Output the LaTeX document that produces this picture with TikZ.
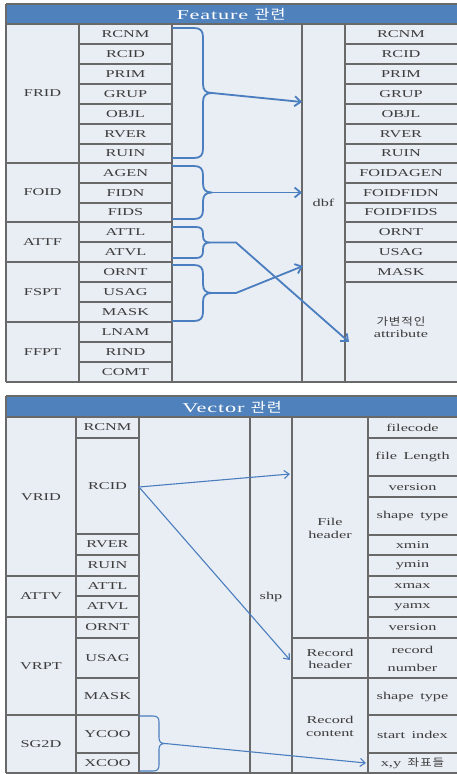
\documentclass[tikz,border=0pt]{standalone}
\usepackage{fontspec}
\setmainfont{Liberation Serif}[FakeStretch=1.55, WordSpace=1.6]
\newfontfamily\kr{Noto Sans CJK KR}[FakeStretch=1.2, LetterSpace=8]
\newfontfamily\hdr{Liberation Serif}[FakeStretch=1.65, LetterSpace=6]
\usetikzlibrary{arrows.meta}
\definecolor{cellbg}{RGB}{233,237,244}
\definecolor{gridc}{RGB}{105,105,105}
\definecolor{hdrbg}{RGB}{79,129,189}
\definecolor{arrc}{RGB}{74,126,190}
\definecolor{txtc}{RGB}{60,60,60}
\newcommand\brc[7]{%
 \pgfmathsetmacro\ym{(#2+#3)/2}%
 \draw[#7] (#1,#2) -- ({#4-#5},#2) .. controls ({#4-0.3*#5},#2) and (#4,{#2+0.3*#5}) .. (#4,{#2+#5}) -- (#4,{\ym-#5}) .. controls (#4,{\ym-0.3*#5}) and ({#4+0.3*#5},\ym) .. ({#4+#5},\ym) .. controls ({#4+0.3*#5},\ym) and (#4,{\ym+0.3*#5}) .. (#4,{\ym+#5}) -- (#4,{#3-#5}) .. controls (#4,{#3-0.3*#5}) and ({#4-0.3*#5},#3) .. ({#4-#5},#3) -- (#1,#3);%
 \coordinate (#6) at ({#4+#5},\ym);%
}
\tikzset{
 gridline/.style={draw=gridc, line width=1.1pt},
 lbl/.style={text=txtc, inner sep=0pt, align=center, font=\fontsize{10.5}{12}\selectfont},
 hdrlbl/.style={text=white, inner sep=0pt, font=\hdr\fontsize{13.5}{15}\selectfont},
 bracetop/.style={draw=arrc, line width=1.8pt, line join=round},
 bracebot/.style={draw=arrc, line width=1.1pt, line join=round},
 arrowtop/.style={draw=arrc, line width=1.8pt, -{Straight Barb[length=6pt,width=10pt]}},
 arrowbot/.style={draw=arrc, line width=1.1pt, -{Straight Barb[length=5pt,width=8pt]}},
}
\begin{document}
\begin{tikzpicture}[x=1pt,y=-1pt]
\useasboundingbox (0,0) rectangle (457,774);
\fill[white] (0,0) rectangle (457,774);
% ================= TOP TABLE =================
\fill[cellbg] (6,24) rectangle (457,382);
\fill[hdrbg] (6,4) rectangle (457,24);
\draw[gridline] (6,4) -- (457,4);
\draw[gridline] (6,4) -- (6,24);
\draw[gridline] (6,24) -- (457,24);
\foreach \x in {6,79,172,302,345} \draw[gridline] (\x,24) -- (\x,382);
\draw[gridline] (6,382) -- (457,382);
\foreach \y in {163,222,262,322} \draw[gridline] (6,\y) -- (79,\y);
\foreach \y in {44,64,84,104,124,144,163,183,203,222,242,262,282,302,322,342,362} \draw[gridline] (79,\y) -- (172,\y);
\foreach \y in {44,64,84,104,124,144,163,183,203,222,242,262,282} \draw[gridline] (345,\y) -- (457,\y);
\node[hdrlbl] (h1) at (231,14) {Feature {\kr 관련}};
% col 1
\node[lbl] (frid) at (42.5,93.5) {FRID};
\node[lbl] (foid) at (42.5,192.5) {FOID};
\node[lbl] (attf) at (42.5,242) {ATTF};
\node[lbl] (fspt) at (42.5,292) {FSPT};
\node[lbl] (ffpt) at (42.5,352) {FFPT};
% col 2
\node[lbl] (a1) at (125.5,34) {RCNM};
\node[lbl] (a2) at (125.5,54) {RCID};
\node[lbl] (a3) at (125.5,74) {PRIM};
\node[lbl] (a4) at (125.5,94) {GRUP};
\node[lbl] (a5) at (125.5,114) {OBJL};
\node[lbl] (a6) at (125.5,134) {RVER};
\node[lbl] (a7) at (125.5,153.5) {RUIN};
\node[lbl] (a8) at (125.5,173) {AGEN};
\node[lbl] (a9) at (125.5,193) {FIDN};
\node[lbl] (a10) at (125.5,212.5) {FIDS};
\node[lbl] (a11) at (125.5,232) {ATTL};
\node[lbl] (a12) at (125.5,252) {ATVL};
\node[lbl] (a13) at (125.5,272) {ORNT};
\node[lbl] (a14) at (125.5,292) {USAG};
\node[lbl] (a15) at (125.5,312) {MASK};
\node[lbl] (a16) at (125.5,332) {LNAM};
\node[lbl] (a17) at (125.5,352) {RIND};
\node[lbl] (a18) at (125.5,372) {COMT};
% dbf
\node[lbl] (dbf) at (323.5,203) {dbf};
% col 5
\node[lbl] (c1) at (401,34) {RCNM};
\node[lbl] (c2) at (401,54) {RCID};
\node[lbl] (c3) at (401,74) {PRIM};
\node[lbl] (c4) at (401,94) {GRUP};
\node[lbl] (c5) at (401,114) {OBJL};
\node[lbl] (c6) at (401,134) {RVER};
\node[lbl] (c7) at (401,153.5) {RUIN};
\node[lbl] (c8) at (401,173) {FOIDAGEN};
\node[lbl] (c9) at (401,193) {FOIDFIDN};
\node[lbl] (c10) at (401,212.5) {FOIDFIDS};
\node[lbl] (c11) at (401,232) {ORNT};
\node[lbl] (c12) at (401,252) {USAG};
\node[lbl] (c13) at (401,272) {MASK};
\node[lbl] (c14) at (401,327) {{\kr 가변적인}\\attribute};
% braces and arrows (top)
\brc{172}{28}{158}{203}{9}{b1}{bracetop}
\brc{172}{166}{219}{203}{9}{b2}{bracetop}
\brc{172}{227}{258}{203}{7}{b3}{bracetop}
\brc{172}{265}{321}{203}{9}{b4}{bracetop}
\coordinate (t1) at (302,102);
\coordinate (t2) at (302,192.5);
\coordinate (t3) at (349,342);
\coordinate (t4) at (303,266);
\coordinate (k3) at (236,242.5);
\coordinate (k4) at (236,293);
\draw[arrowtop] (b1) -- (t1);
\draw[arrowtop] (b2) -- (t2);
\draw[arrowtop] (b3) -- (k3) -- (t3);
\draw[arrowtop] (b4) -- (k4) -- (t4);
% ================= BOTTOM TABLE =================
\fill[cellbg] (6,417) rectangle (457,773);
\fill[hdrbg] (6,396) rectangle (457,417);
\draw[gridline] (6,396) -- (457,396);
\draw[gridline] (6,396) -- (6,417);
\draw[gridline] (6,417) -- (457,417);
\foreach \x in {6,76,139,250,292,368} \draw[gridline] (\x,417) -- (\x,773);
\draw[gridline] (6,773) -- (457,773);
\foreach \y in {576,617,715} \draw[gridline] (6,\y) -- (76,\y);
\foreach \y in {438,534,555,576,596,617,638,678,715,753} \draw[gridline] (76,\y) -- (139,\y);
\foreach \y in {638,678} \draw[gridline] (292,\y) -- (368,\y);
\foreach \y in {438,476,497,535,555,576,597,617,638,678,715,753} \draw[gridline] (368,\y) -- (457,\y);
\node[hdrlbl] (h2) at (232,407) {Vector {\kr 관련}};
\node[lbl] (vrid) at (41,497) {VRID};
\node[lbl] (attv) at (41,596.5) {ATTV};
\node[lbl] (vrpt) at (41,666) {VRPT};
\node[lbl] (sg2d) at (41,744) {SG2D};
\node[lbl] (d1) at (107.5,427.5) {RCNM};
\node[lbl] (d2) at (107.5,486) {RCID};
\node[lbl] (d3) at (107.5,544.5) {RVER};
\node[lbl] (d4) at (107.5,565.5) {RUIN};
\node[lbl] (d5) at (107.5,586) {ATTL};
\node[lbl] (d6) at (107.5,606.5) {ATVL};
\node[lbl] (d7) at (107.5,627.5) {ORNT};
\node[lbl] (d8) at (107.5,658) {USAG};
\node[lbl] (d9) at (107.5,696.5) {MASK};
\node[lbl] (d10) at (107.5,734) {YCOO};
\node[lbl] (d11) at (107.5,763) {XCOO};
\node[lbl] (shp) at (271,597) {shp};
\node[lbl, font=\fontsize{10.5}{13}\selectfont] (e1) at (330,528) {File\\header};
\node[lbl, font=\fontsize{10.5}{12.5}\selectfont] (e2) at (330,659) {Record\\header};
\node[lbl, font=\fontsize{10.5}{13}\selectfont] (e3) at (330,726) {Record\\content};
\node[lbl] (f1) at (412.5,427.5) {filecode};
\node[lbl] (f2) at (412.5,457) {file Length};
\node[lbl] (f3) at (412.5,487) {version};
\node[lbl] (f4) at (412.5,516) {shape type};
\node[lbl] (f5) at (412.5,545) {xmin};
\node[lbl] (f6) at (412.5,565.5) {ymin};
\node[lbl] (f7) at (412.5,586.5) {xmax};
\node[lbl] (f8) at (412.5,607) {yamx};
\node[lbl] (f9) at (412.5,627.5) {version};
\node[lbl, font=\fontsize{10.5}{18}\selectfont] (f10) at (412.5,659) {record\\number};
\node[lbl] (f11) at (412.5,697) {shape type};
\node[lbl] (f12) at (412.5,734.5) {start index};
\node[lbl] (f13) at (412.5,763) {x,y {\kr 좌표들}};
% arrows (bottom)
\coordinate (s1) at (139,487);
\coordinate (t5) at (290,474);
\coordinate (t6) at (290,660);
\coordinate (t7) at (366,763);
\draw[arrowbot] (s1) -- (t5);
\draw[arrowbot] (s1) -- (t6);
\brc{139}{716}{771}{159}{6}{b5}{bracebot}
\draw[arrowbot] (b5) -- (t7);
\end{tikzpicture}
\end{document}
